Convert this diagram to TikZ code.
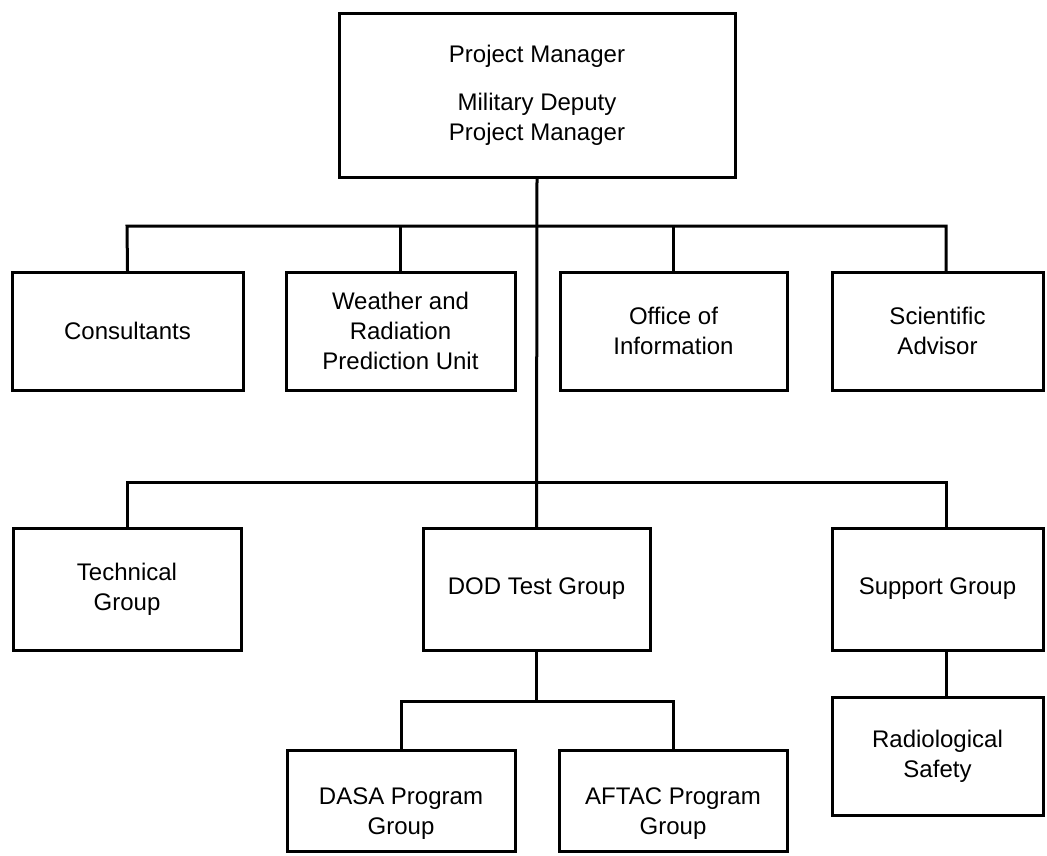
\documentclass[tikz,border=0pt]{standalone}
\usepackage{fontspec}
\setmainfont{Liberation Sans}
\begin{document}
\begin{tikzpicture}[x=1pt,y=-1pt,
  box/.style={draw=black, line width=3pt, rectangle, align=center, inner sep=0pt,
    font=\fontsize{24}{30}\selectfont},
  lbl/.style={align=center, inner sep=0pt, font=\fontsize{24}{30}\selectfont},
  link/.style={draw=black, line width=3pt, line cap=rect, line join=miter}]
\useasboundingbox (0,0) rectangle (1047,855);
\fill[white] (0,0) rectangle (1047,855);

% top
\node[box, minimum width=396, minimum height=164] (top) at (537,95)
  {Project Manager\\[18pt] Military Deputy\\ Project Manager};

% row 2
\node[box, minimum width=231, minimum height=118] (cons)   at (127.5,331) {Consultants};
\node[box, minimum width=229, minimum height=118] (weath)  at (400.5,331) {Weather and\\Radiation\\Prediction Unit};
\node[box, minimum width=227, minimum height=118] (office) at (673.5,331) {Office of\\Information};
\node[box, minimum width=211, minimum height=118] (sci)    at (937.5,331) {Scientific\\Advisor};

% row 3
\node[box, minimum width=228, minimum height=122] (tech) at (127,589) {Technical\\Group};
\node[box, minimum width=227, minimum height=122] (dod)  at (536.5,589) {DOD Test Group};
\node[box, minimum width=211, minimum height=122] (supp) at (937.5,589) {Support Group};

% row 4
\node[box, minimum width=228, minimum height=101] (dasa)  at (401,800.5) {};
\node[lbl] at ([yshift=-13pt]dasa.center) {DASA Program\\Group};
\node[box, minimum width=228, minimum height=101] (aftac) at (673,800.5) {};
\node[lbl] at ([yshift=-13pt]aftac.center) {AFTAC Program\\Group};
\node[box, minimum width=211, minimum height=118] (rad) at (937.5,756) {Radiological\\Safety};

% bus coordinates
\coordinate (b1l) at (127,226);
\coordinate (b1r) at (946,226);
\coordinate (b2l) at (127,482);
\coordinate (b2r) at (946,482);
\coordinate (b3l) at (401,701);
\coordinate (b3r) at (673,701);

% connectors
\draw[link] (top.south) -- (dod.north);
\draw[link] (cons.north) -- (b1l) -- (b1r) -- (b1r |- sci.north);
\draw[link] (weath.north) -- (weath.north |- b1l);
\draw[link] (office.north) -- (office.north |- b1l);
\draw[link] (tech.north) -- (b2l) -- (b2r) -- (b2r |- supp.north);
\draw[link] (dod.south) -- (dod.south |- b3l);
\draw[link] (dasa.north) -- (b3l) -- (b3r) -- (aftac.north);
\draw[link] (b2r |- supp.south) -- (b2r |- rad.north);
\end{tikzpicture}
\end{document}
